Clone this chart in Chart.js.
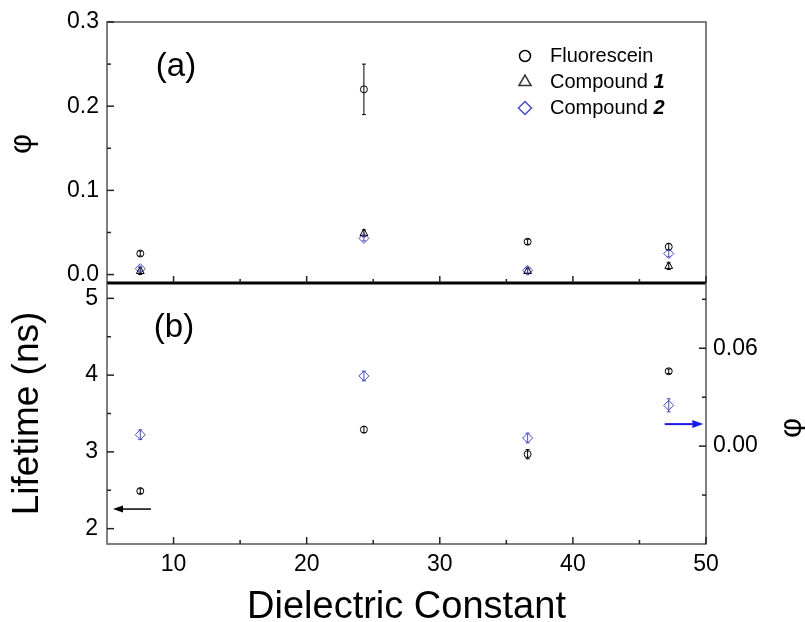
<!DOCTYPE html>
<html>
<head>
<meta charset="utf-8">
<script src="https://cdn.jsdelivr.net/npm/chart.js@4.4.1/dist/chart.umd.min.js"></script>
<style>
  body { margin:0; background:#fff; }
  .wrap { position:relative; width:805px; height:622px; }
  canvas { position:absolute; left:0; top:0; }
</style>
</head>
<body>
<div class="wrap">
  <canvas id="topChart" width="805" height="622"></canvas>
  <canvas id="bottomChart" width="805" height="622"></canvas>
</div>
<script>
// solvents' dielectric constants
const dielectric = [7.5, 24.3, 36.6, 47.2];

// quantum yield, panel (a)
const phiFluorescein = [0.025, 0.220, 0.039, 0.033];
const phiFluoresceinErr = [0.003, 0.030, 0.003, 0.004];
const phiCompound1 = [0.004, 0.049, 0.004, 0.010];
const phiCompound1Err = [0.004, 0.004, 0.003, 0.004];
const phiCompound2 = [0.007, 0.043, 0.005, 0.025];
const phiCompound2Err = [0.003, 0.003, 0.003, 0.004];

// lifetime, panel (b)
const tauFluorescein = [2.49, 3.29, 2.97, 4.05];
const tauFluoresceinErr = [0.03, 0.04, 0.06, 0.03];

// ticks
const xTicks = [10, 20, 30, 40, 50];
const xMinor = [15, 25, 35, 45];
const phiTicks = [0, 0.1, 0.2, 0.3];
const phiMinor = [0.05, 0.15, 0.25];
const tauTicks = [2, 3, 4, 5];
const tauMinor = [2.5, 3.5, 4.5];
const phiRightTicks = [0, 0.06];
const phiRightMinor = [-0.03, 0.03, 0.09];

const FONT = '"Liberation Sans", Arial, sans-serif';
const BLUE = '#4b4bc4';
Chart.defaults.font.family = FONT;
Chart.defaults.color = '#000';

const pts = ys => dielectric.map((x, i) => ({ x, y: ys[i] }));

function inTicks(ctx, chart, scale, values, len, side) {
  const a = chart.chartArea;
  values.forEach(v => {
    const p = scale.getPixelForValue(v);
    ctx.beginPath();
    if (side === 'bottom') { ctx.moveTo(p, a.bottom); ctx.lineTo(p, a.bottom - len); }
    else if (side === 'left') { ctx.moveTo(a.left, p); ctx.lineTo(a.left + len, p); }
    else { ctx.moveTo(a.right, p); ctx.lineTo(a.right - len, p); }
    ctx.stroke();
  });
}

function arrow(ctx, x1, y, x2, color, lw, head, half) {
  const dir = Math.sign(x2 - x1);
  ctx.save();
  ctx.strokeStyle = color; ctx.fillStyle = color; ctx.lineWidth = lw;
  ctx.beginPath(); ctx.moveTo(x1, y); ctx.lineTo(x2 - dir * head, y); ctx.stroke();
  ctx.beginPath(); ctx.moveTo(x2, y); ctx.lineTo(x2 - dir * head, y - half); ctx.lineTo(x2 - dir * head, y + half); ctx.closePath(); ctx.fill();
  ctx.restore();
}

function rotText(ctx, text, x, y, font) {
  ctx.save();
  ctx.font = font; ctx.textAlign = 'center'; ctx.textBaseline = 'middle';
  ctx.translate(x, y); ctx.rotate(-Math.PI / 2);
  ctx.fillText(text, 0, 0);
  ctx.restore();
}

const errorBars = {
  id: 'errorBars',
  afterDatasetsDraw(chart) {
    const ctx = chart.ctx, xs = chart.scales.x;
    chart.data.datasets.forEach(ds => {
      if (!ds.errors) return;
      const ys = chart.scales[ds.yAxisID];
      ctx.save();
      ctx.strokeStyle = ds.borderColor; ctx.lineWidth = 1;
      ds.data.forEach((pt, j) => {
        const e = ds.errors[j];
        const px = xs.getPixelForValue(pt.x);
        const y1 = ys.getPixelForValue(pt.y - e), y2 = ys.getPixelForValue(pt.y + e);
        ctx.beginPath();
        ctx.moveTo(px, y1); ctx.lineTo(px, y2);
        ctx.moveTo(px - 2, y1); ctx.lineTo(px + 2, y1);
        ctx.moveTo(px - 2, y2); ctx.lineTo(px + 2, y2);
        ctx.stroke();
      });
      ctx.restore();
    });
  }
};

const topDecor = {
  id: 'topDecor',
  afterDraw(chart) {
    const { ctx, chartArea: a } = chart;
    ctx.save();
    ctx.strokeStyle = '#555'; ctx.lineWidth = 1.5;
    ctx.beginPath();
    ctx.moveTo(a.left, a.bottom); ctx.lineTo(a.left, a.top); ctx.lineTo(a.right, a.top); ctx.lineTo(a.right, a.bottom);
    ctx.stroke();
    ctx.strokeStyle = '#000'; ctx.lineWidth = 3;
    ctx.beginPath(); ctx.moveTo(a.left, a.bottom); ctx.lineTo(a.right, a.bottom); ctx.stroke();
    ctx.strokeStyle = '#222'; ctx.lineWidth = 1.5;
    inTicks(ctx, chart, chart.scales.x, xTicks, 7, 'bottom');
    inTicks(ctx, chart, chart.scales.x, xMinor, 4, 'bottom');
    inTicks(ctx, chart, chart.scales.y, phiTicks, 7, 'left');
    inTicks(ctx, chart, chart.scales.y, phiMinor, 4, 'left');

    ctx.fillStyle = '#000';
    ctx.font = '33px ' + FONT; ctx.textAlign = 'center'; ctx.textBaseline = 'middle';
    ctx.fillText('(a)', 176, 67);
    rotText(ctx, 'φ', 22, 144, '31px ' + FONT);

    // legend
    const items = [
      { style: 'circle', r: 5.5, color: '#000', name: 'Fluorescein', num: '' },
      { style: 'triangle', r: 7, color: '#333', name: 'Compound ', num: '1' },
      { style: 'rectRot', r: 6.5, color: BLUE, name: 'Compound ', num: '2' }
    ];
    items.forEach((it, i) => {
      const y = 56 + i * 26;
      ctx.strokeStyle = it.color; ctx.fillStyle = 'rgba(0,0,0,0)';
      Chart.helpers.drawPoint(ctx, { pointStyle: it.style, radius: it.r, rotation: 0, borderWidth: 1 }, 525, y);
      ctx.fillStyle = '#000'; ctx.textAlign = 'left';
      ctx.font = '20px ' + FONT;
      ctx.fillText(it.name, 550, y);
      if (it.num) {
        const w = ctx.measureText(it.name).width;
        ctx.font = 'italic bold 20px ' + FONT;
        ctx.fillText(it.num, 550 + w, y);
      }
    });
    ctx.restore();
  }
};

const bottomDecor = {
  id: 'bottomDecor',
  afterDraw(chart) {
    const { ctx, chartArea: a, scales } = chart;
    ctx.save();
    ctx.strokeStyle = '#555'; ctx.lineWidth = 1.5;
    ctx.beginPath();
    ctx.moveTo(a.left, a.top); ctx.lineTo(a.left, a.bottom); ctx.lineTo(a.right, a.bottom); ctx.lineTo(a.right, a.top);
    ctx.stroke();
    ctx.strokeStyle = '#222'; ctx.lineWidth = 1.5;
    inTicks(ctx, chart, scales.x, xTicks, 7, 'bottom');
    inTicks(ctx, chart, scales.x, xMinor, 4, 'bottom');
    inTicks(ctx, chart, scales.y, tauTicks, 7, 'left');
    inTicks(ctx, chart, scales.y, tauMinor, 4, 'left');
    inTicks(ctx, chart, scales.y2, phiRightTicks, 7, 'right');
    inTicks(ctx, chart, scales.y2, phiRightMinor, 4, 'right');

    ctx.fillStyle = '#000';
    ctx.font = '33px ' + FONT; ctx.textAlign = 'center'; ctx.textBaseline = 'middle';
    ctx.fillText('(b)', 174, 328);
    rotText(ctx, 'φ', 792, 428, '31px ' + FONT);

    // arrows pointing to the axis of each series
    arrow(ctx, scales.x.getPixelForValue(8.3), scales.y.getPixelForValue(2.255),
      scales.x.getPixelForValue(5.45), '#000', 1.5, 10, 3.5);
    arrow(ctx, scales.x.getPixelForValue(46.9), scales.y2.getPixelForValue(0.0135),
      scales.x.getPixelForValue(49.8), '#1a1ae6', 2, 11, 4);
    ctx.restore();
  }
};

const common = {
  responsive: false,
  animation: false,
  events: [],
  plugins: { legend: { display: false }, tooltip: { enabled: false } }
};

const labelFont = { size: 23 };

new Chart(document.getElementById('topChart'), {
  type: 'scatter',
  data: {
    datasets: [
      { label: 'Fluorescein', data: pts(phiFluorescein), errors: phiFluoresceinErr, yAxisID: 'y',
        pointStyle: 'circle', pointRadius: 3.5, borderColor: '#000', backgroundColor: 'rgba(0,0,0,0)', borderWidth: 1 },
      { label: 'Compound 1', data: pts(phiCompound1), errors: phiCompound1Err, yAxisID: 'y',
        pointStyle: 'triangle', pointRadius: 4.5, borderColor: '#000', backgroundColor: 'rgba(0,0,0,0)', borderWidth: 1 },
      { label: 'Compound 2', data: pts(phiCompound2), errors: phiCompound2Err, yAxisID: 'y',
        pointStyle: 'rectRot', pointRadius: 5, borderColor: BLUE, backgroundColor: 'rgba(0,0,0,0)', borderWidth: 1 }
    ]
  },
  options: {
    ...common,
    layout: { padding: { top: 22, right: 99, bottom: 339, left: 0 } },
    scales: {
      x: { type: 'linear', min: 5, max: 50, display: false },
      y: {
        min: -0.01, max: 0.3,
        afterFit: s => { s.width = 107; },
        afterBuildTicks: s => { s.ticks = phiTicks.map(v => ({ value: v })); },
        grid: { display: false, drawTicks: false },
        border: { display: false },
        ticks: { padding: 8, font: labelFont, callback: v => v.toFixed(1) }
      }
    }
  },
  plugins: [errorBars, topDecor]
});

new Chart(document.getElementById('bottomChart'), {
  type: 'scatter',
  data: {
    datasets: [
      { label: 'Fluorescein', data: pts(tauFluorescein), errors: tauFluoresceinErr, yAxisID: 'y',
        pointStyle: 'circle', pointRadius: 3.5, borderColor: '#000', backgroundColor: 'rgba(0,0,0,0)', borderWidth: 1 },
      { label: 'Compound 2', data: pts(phiCompound2), errors: phiCompound2Err, yAxisID: 'y2',
        pointStyle: 'rectRot', pointRadius: 5, borderColor: BLUE, backgroundColor: 'rgba(0,0,0,0)', borderWidth: 1 }
    ]
  },
  options: {
    ...common,
    layout: { padding: { top: 283, right: 0, bottom: 0, left: 0 } },
    scales: {
      x: {
        type: 'linear', min: 5, max: 50,
        afterFit: s => { s.height = 78; },
        afterBuildTicks: s => { s.ticks = xTicks.map(v => ({ value: v })); },
        grid: { display: false, drawTicks: false },
        border: { display: false },
        ticks: { padding: 7, font: labelFont, maxRotation: 0 },
        title: { display: true, text: 'Dielectric Constant', font: { size: 38, lineHeight: 0.75 }, padding: 0 }
      },
      y: {
        position: 'left', min: 1.8, max: 5.2,
        afterFit: s => { s.width = 107; },
        afterBuildTicks: s => { s.ticks = tauTicks.map(v => ({ value: v })); },
        grid: { display: false, drawTicks: false },
        border: { display: false },
        ticks: { padding: 9, font: labelFont },
        title: { display: true, text: 'Lifetime (ns)', font: { size: 37 }, padding: { top: 6, bottom: 0 } }
      },
      y2: {
        position: 'right', min: -0.06, max: 0.1,
        afterFit: s => { s.width = 99; },
        afterBuildTicks: s => { s.ticks = phiRightTicks.map(v => ({ value: v })); },
        grid: { display: false, drawTicks: false },
        border: { display: false },
        ticks: { padding: 7, font: labelFont, callback: v => v.toFixed(2) }
      }
    }
  },
  plugins: [errorBars, bottomDecor]
});
</script>
</body>
</html>
